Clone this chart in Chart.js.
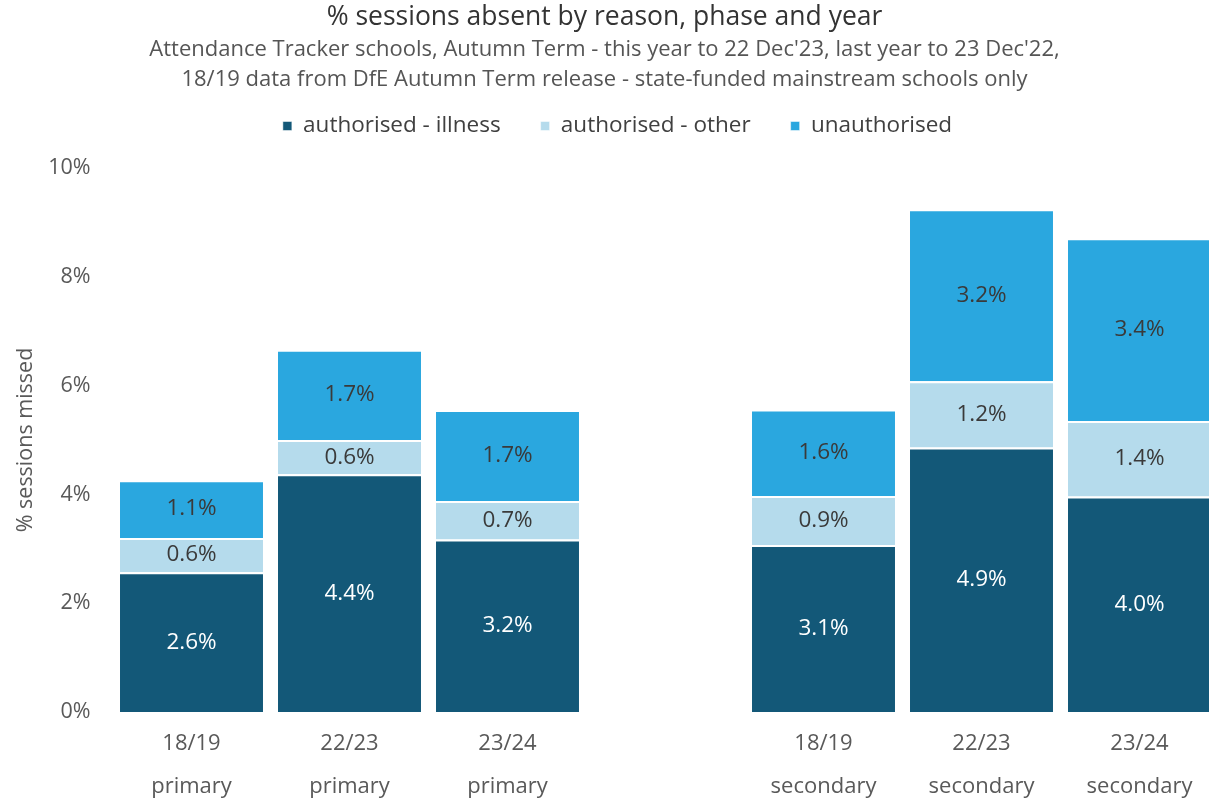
<!DOCTYPE html>
<html><head><meta charset="utf-8">
<script src="https://cdn.jsdelivr.net/npm/chart.js@4.4.1/dist/chart.umd.min.js"></script>
<style>html,body{margin:0;padding:0;background:#fff;overflow:hidden;} #wrap{width:1230px;height:806px;}</style>
</head><body><div id="wrap"><canvas id="c" width="1230" height="806"></canvas></div>
<script>
const categories = [['18/19','primary'],['22/23','primary'],['23/24','primary'],'',['18/19','secondary'],['22/23','secondary'],['23/24','secondary']];
const illness = [2.57, 4.37, 3.17, null, 3.07, 4.86, 3.96];
const other = [0.63, 0.63, 0.71, null, 0.90, 1.22, 1.39];
const unauthorised = [1.06, 1.66, 1.67, null, 1.59, 3.16, 3.36];
const seriesNames = ['authorised - illness','authorised - other','unauthorised'];
const seriesColors = ['#135878','#b5dbec','#2aa7df'];
const labelColors = ['#ffffff','#3a3a3a','#3a3a3a'];
const FONT = '"Open Sans"';

const spacerPlugin = {
  id: 'spacer',
  beforeInit(chart) {
    Chart.layouts.addBox(chart, {
      position: 'top', weight: -10, fullSize: true, options: { stackWeight: 1 },
      top: 0, left: 0, right: 0, bottom: 0, width: 0, height: 0,
      update(maxWidth) { this.width = maxWidth; this.height = 20.75; },
      isHorizontal() { return true; },
      draw() {}
    });
  }
};
const centerTopPlugin = {
  id: 'centerTop',
  afterLayout(chart) {
    chart.boxes.forEach(b => {
      if (b.position === 'top') {
        const r = (b === chart.legend) ? 1235 : 1209;
        b.left = 0; b.right = r; b.width = r;
      }
    });
  }
};
const valueLabels = {
  id: 'valueLabels',
  afterDatasetsDraw(chart) {
    const ctx = chart.ctx;
    chart.data.datasets.forEach((ds, di) => {
      const meta = chart.getDatasetMeta(di);
      meta.data.forEach((el, i) => {
        const v = ds.data[i];
        if (v == null) return;
        const p = el.getProps(['x','y','base'], true);
        ctx.save();
        ctx.font = '22.5px ' + FONT;
        ctx.fillStyle = labelColors[di];
        ctx.textAlign = 'center';
        ctx.textBaseline = 'middle';
        ctx.fillText(v.toFixed(1) + '%', p.x, (p.y + p.base) / 2);
        ctx.restore();
      });
    });
  }
};

const dataSets = [illness, other, unauthorised].map((d, i) => ({
  label: seriesNames[i], data: d, backgroundColor: seriesColors[i],
  borderColor: '#ffffff', borderWidth: {top: 2, left: 0, right: 0, bottom: 0}, borderSkipped: false,
  barPercentage: 0.905, categoryPercentage: 1
}));

new Chart(document.getElementById('c'), {
  type: 'bar',
  data: { labels: categories, datasets: dataSets },
  plugins: [spacerPlugin, centerTopPlugin, valueLabels],
  options: {
    responsive: false, animation: false,
    layout: { padding: { right: 11.5 } },
    plugins: {
      title: { display: true, text: '% sessions absent by reason, phase and year', color: '#333333',
        font: { family: FONT, size: 26.5, weight: 'normal', lineHeight: 1.2 }, padding: { top: 2, bottom: 2 } },
      subtitle: { display: true, text: ["Attendance Tracker schools, Autumn Term - this year to 22 Dec'23, last year to 23 Dec'22,", '18/19 data from DfE Autumn Term release - state-funded mainstream schools only'],
        color: '#555555', font: { family: FONT, size: 22, weight: 'normal', lineHeight: 30 / 22 }, padding: { top: -0.8, bottom: -20.25 } },
      legend: { display: true, labels: { boxWidth: 9, boxHeight: 9, padding: 40, color: '#404040', font: { family: FONT, size: 22.5 } } },
      tooltip: { enabled: false }
    },
    scales: {
      x: { stacked: true, grid: { display: false, drawTicks: false }, border: { display: false },
        ticks: { color: '#595959', font: { family: FONT, size: 22, lineHeight: 43 / 22 }, padding: 10, autoSkip: false, maxRotation: 0 },
        afterFit(s) { s.height = 94; } },
      y: { stacked: true, min: 0, max: 10, grid: { display: false, drawTicks: false }, border: { display: false },
        ticks: { stepSize: 2, callback: v => v + '%', color: '#595959', font: { family: FONT, size: 21.5 }, padding: 22 },
        title: { display: true, text: '% sessions missed', color: '#595959', font: { family: FONT, size: 21.5 }, padding: { top: 13, bottom: 0 } },
        afterFit(s) { s.width = 112.5; } }
    }
  }
});
</script></body></html>
